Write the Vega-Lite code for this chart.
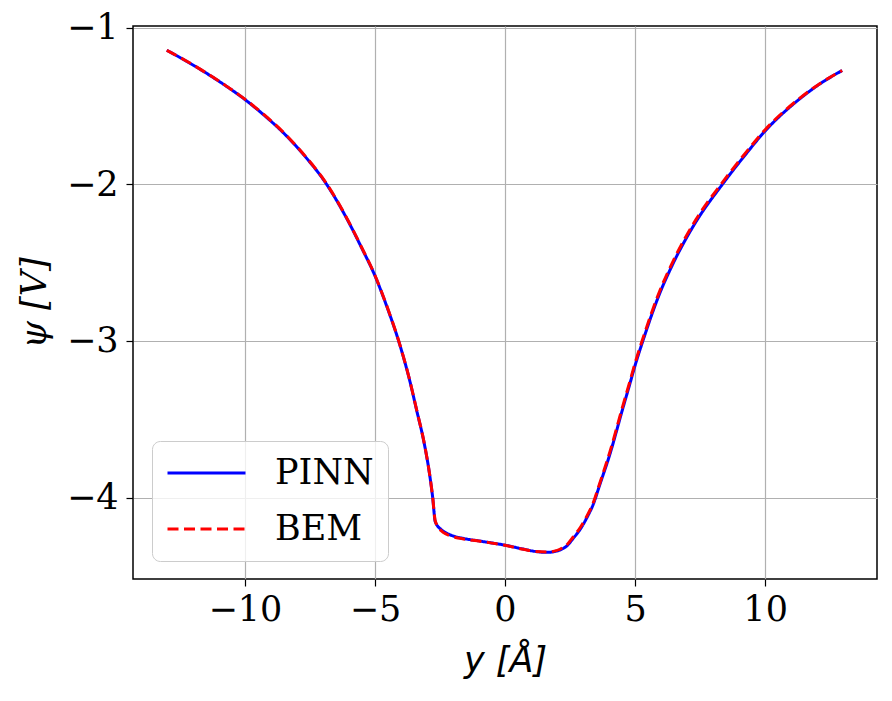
{
  "$schema": "https://vega.github.io/schema/vega-lite/v6.json",
  "autosize": {"type": "none"},
  "width": 744,
  "height": 553,
  "padding": {"left": 133, "top": 26, "right": 15, "bottom": 122},
  "background": "white",
  "config": {
    "view": {"stroke": "black", "strokeWidth": 1.5},
    "axis": {
      "grid": true,
      "gridColor": "#b0b0b0",
      "gridWidth": 1.2,
      "domain": false,
      "tickColor": "black",
      "tickSize": 7,
      "tickWidth": 1.2,
      "labelFont": "DejaVu Serif",
      "labelFontSize": 35,
      "labelColor": "black",
      "titleColor": "black",
      "titleFontSize": 35,
      "titleFontWeight": "normal"
    }
  },
  "data": {
    "values": [
      {"s": "PINN", "x": -13.0, "y": -1.145},
      {"s": "PINN", "x": -12.25, "y": -1.214},
      {"s": "PINN", "x": -11.5, "y": -1.289},
      {"s": "PINN", "x": -10.75, "y": -1.37},
      {"s": "PINN", "x": -10.0, "y": -1.459},
      {"s": "PINN", "x": -9.25, "y": -1.561},
      {"s": "PINN", "x": -8.5, "y": -1.675},
      {"s": "PINN", "x": -7.75, "y": -1.81},
      {"s": "PINN", "x": -6.86, "y": -2.0},
      {"s": "PINN", "x": -6.07, "y": -2.223},
      {"s": "PINN", "x": -5.5, "y": -2.41},
      {"s": "PINN", "x": -5.0, "y": -2.584},
      {"s": "PINN", "x": -4.5, "y": -2.8},
      {"s": "PINN", "x": -4.09, "y": -3.0},
      {"s": "PINN", "x": -3.68, "y": -3.242},
      {"s": "PINN", "x": -3.4, "y": -3.44},
      {"s": "PINN", "x": -3.09, "y": -3.667},
      {"s": "PINN", "x": -2.9, "y": -3.85},
      {"s": "PINN", "x": -2.78, "y": -4.0},
      {"s": "PINN", "x": -2.68, "y": -4.155},
      {"s": "PINN", "x": -2.45, "y": -4.205},
      {"s": "PINN", "x": -2.23, "y": -4.229},
      {"s": "PINN", "x": -1.9, "y": -4.25},
      {"s": "PINN", "x": -1.6, "y": -4.261},
      {"s": "PINN", "x": -0.96, "y": -4.278},
      {"s": "PINN", "x": -0.5, "y": -4.29},
      {"s": "PINN", "x": 0.0, "y": -4.304},
      {"s": "PINN", "x": 0.7, "y": -4.329},
      {"s": "PINN", "x": 1.2, "y": -4.345},
      {"s": "PINN", "x": 1.6, "y": -4.35},
      {"s": "PINN", "x": 1.9, "y": -4.345},
      {"s": "PINN", "x": 2.11, "y": -4.335},
      {"s": "PINN", "x": 2.4, "y": -4.305},
      {"s": "PINN", "x": 2.62, "y": -4.261},
      {"s": "PINN", "x": 2.9, "y": -4.2},
      {"s": "PINN", "x": 3.13, "y": -4.134},
      {"s": "PINN", "x": 3.4, "y": -4.04},
      {"s": "PINN", "x": 3.64, "y": -3.92},
      {"s": "PINN", "x": 4.02, "y": -3.73},
      {"s": "PINN", "x": 4.53, "y": -3.43},
      {"s": "PINN", "x": 4.79, "y": -3.28},
      {"s": "PINN", "x": 5.0, "y": -3.157},
      {"s": "PINN", "x": 5.3, "y": -3.0},
      {"s": "PINN", "x": 5.94, "y": -2.70},
      {"s": "PINN", "x": 6.45, "y": -2.51},
      {"s": "PINN", "x": 7.34, "y": -2.24},
      {"s": "PINN", "x": 8.36, "y": -2.0},
      {"s": "PINN", "x": 9.2, "y": -1.82},
      {"s": "PINN", "x": 10.0, "y": -1.66},
      {"s": "PINN", "x": 11.3, "y": -1.459},
      {"s": "PINN", "x": 12.1, "y": -1.36},
      {"s": "PINN", "x": 12.96, "y": -1.274},
      {"s": "BEM", "x": -13.0, "y": -1.145},
      {"s": "BEM", "x": -12.25, "y": -1.213},
      {"s": "BEM", "x": -11.5, "y": -1.288},
      {"s": "BEM", "x": -10.75, "y": -1.369},
      {"s": "BEM", "x": -10.0, "y": -1.457},
      {"s": "BEM", "x": -9.25, "y": -1.558},
      {"s": "BEM", "x": -8.5, "y": -1.672},
      {"s": "BEM", "x": -7.75, "y": -1.807},
      {"s": "BEM", "x": -6.86, "y": -1.997},
      {"s": "BEM", "x": -6.07, "y": -2.22},
      {"s": "BEM", "x": -5.5, "y": -2.407},
      {"s": "BEM", "x": -5.0, "y": -2.581},
      {"s": "BEM", "x": -4.5, "y": -2.797},
      {"s": "BEM", "x": -4.09, "y": -2.998},
      {"s": "BEM", "x": -3.68, "y": -3.24},
      {"s": "BEM", "x": -3.4, "y": -3.438},
      {"s": "BEM", "x": -3.09, "y": -3.665},
      {"s": "BEM", "x": -2.9, "y": -3.848},
      {"s": "BEM", "x": -2.78, "y": -3.998},
      {"s": "BEM", "x": -2.68, "y": -4.15},
      {"s": "BEM", "x": -2.45, "y": -4.212},
      {"s": "BEM", "x": -2.23, "y": -4.236},
      {"s": "BEM", "x": -1.9, "y": -4.255},
      {"s": "BEM", "x": -1.6, "y": -4.264},
      {"s": "BEM", "x": -0.96, "y": -4.279},
      {"s": "BEM", "x": -0.5, "y": -4.291},
      {"s": "BEM", "x": 0.0, "y": -4.305},
      {"s": "BEM", "x": 0.7, "y": -4.33},
      {"s": "BEM", "x": 1.2, "y": -4.345},
      {"s": "BEM", "x": 1.6, "y": -4.348},
      {"s": "BEM", "x": 1.9, "y": -4.342},
      {"s": "BEM", "x": 2.11, "y": -4.33},
      {"s": "BEM", "x": 2.4, "y": -4.298},
      {"s": "BEM", "x": 2.62, "y": -4.252},
      {"s": "BEM", "x": 2.9, "y": -4.19},
      {"s": "BEM", "x": 3.13, "y": -4.124},
      {"s": "BEM", "x": 3.4, "y": -4.03},
      {"s": "BEM", "x": 3.64, "y": -3.91},
      {"s": "BEM", "x": 4.02, "y": -3.715},
      {"s": "BEM", "x": 4.53, "y": -3.415},
      {"s": "BEM", "x": 4.79, "y": -3.265},
      {"s": "BEM", "x": 5.0, "y": -3.142},
      {"s": "BEM", "x": 5.3, "y": -2.985},
      {"s": "BEM", "x": 5.94, "y": -2.685},
      {"s": "BEM", "x": 6.45, "y": -2.495},
      {"s": "BEM", "x": 7.34, "y": -2.226},
      {"s": "BEM", "x": 8.36, "y": -1.988},
      {"s": "BEM", "x": 9.2, "y": -1.81},
      {"s": "BEM", "x": 10.0, "y": -1.652},
      {"s": "BEM", "x": 11.3, "y": -1.455},
      {"s": "BEM", "x": 12.1, "y": -1.358},
      {"s": "BEM", "x": 12.96, "y": -1.274}
    ]
  },
  "encoding": {
    "x": {
      "field": "x", "type": "quantitative",
      "scale": {"domain": [-14.3, 14.3], "nice": false, "zero": false},
      "axis": {"values": [-10, -5, 0, 5, 10], "title": "y [Å]", "titleFont": "DejaVu Sans", "titleFontStyle": "italic", "labelPadding": 6, "titlePadding": 16}
    },
    "y": {
      "field": "y", "type": "quantitative",
      "scale": {"domain": [-4.52, -0.99], "nice": false, "zero": false},
      "axis": {"values": [-1, -2, -3, -4], "title": "ψ [V]", "titleFont": "DejaVu Serif", "titleFontStyle": "italic", "labelPadding": 8, "titlePadding": 14}
    },
    "color": {
      "field": "s", "type": "nominal",
      "scale": {"domain": ["PINN", "BEM"], "range": ["blue", "red"]},
      "legend": {
        "title": null,
        "orient": "none",
        "legendX": 19,
        "legendY": 415,
        "padding": 14,
        "cornerRadius": 8,
        "strokeColor": "#cccccc",
        "fillColor": "rgba(255,255,255,0.8)",
        "symbolType": "stroke",
        "symbolSize": 6084,
        "symbolStrokeWidth": 3,
        "clipHeight": 36,
        "labelFont": "DejaVu Serif",
        "labelFontSize": 35,
        "labelColor": "black",
        "labelOffset": 28,
        "rowPadding": 20
      }
    },
    "strokeDash": {
      "field": "s", "type": "nominal",
      "scale": {"domain": ["PINN", "BEM"], "range": [[1, 0], [11, 5.5]]},
      "legend": null
    }
  },
  "layer": [
    {
      "transform": [{"filter": "datum.s === 'PINN'"}],
      "mark": {"type": "line", "strokeWidth": 3, "interpolate": "monotone"}
    },
    {
      "transform": [{"filter": "datum.s === 'BEM'"}],
      "mark": {"type": "line", "strokeWidth": 3, "interpolate": "monotone"}
    }
  ]
}
